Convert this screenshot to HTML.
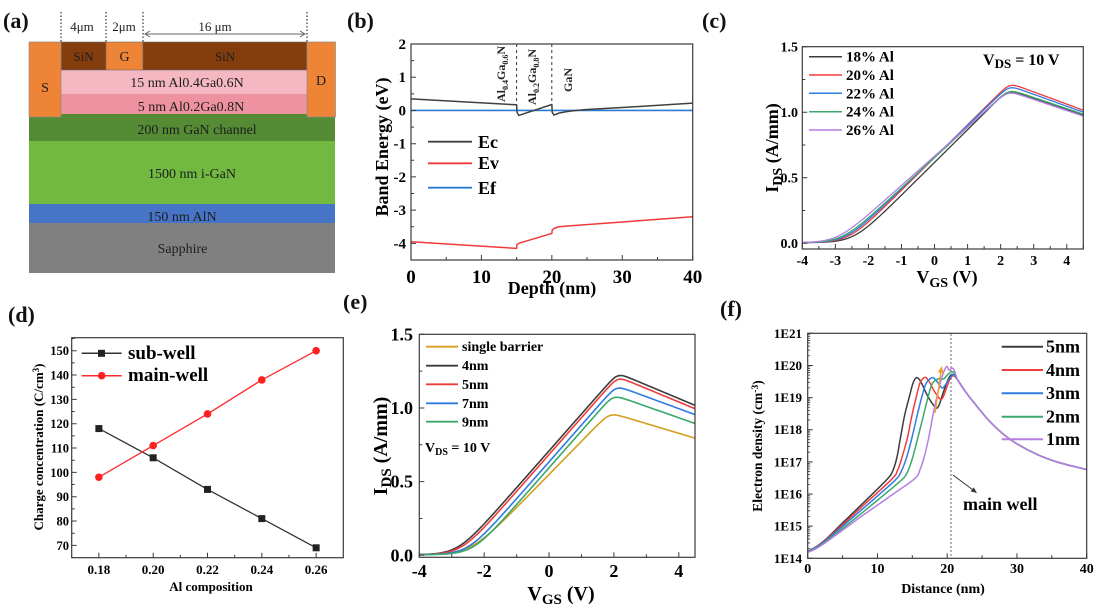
<!DOCTYPE html>
<html><head><meta charset="utf-8">
<style>
html,body{margin:0;padding:0;background:#fff;overflow:hidden}
svg{display:block}
text{font-family:"Liberation Serif","DejaVu Serif",serif}
.b{font-weight:bold}
</style></head><body>
<svg id="s" xmlns="http://www.w3.org/2000/svg" width="1098" height="614" viewBox="0 0 1098 614">
<rect width="1098" height="614" fill="#fff"/>

<!-- ===== Panel (a) ===== -->
<rect x="29" y="114" width="306" height="27.5" fill="#548b34"/>
<rect x="29" y="141" width="306" height="63" fill="#71b941"/>
<rect x="29" y="204" width="306" height="19" fill="#4674c6"/>
<rect x="29" y="223" width="306" height="50" fill="#808080"/>
<rect x="61" y="70" width="246" height="24" fill="#f5b8c3"/>
<rect x="61" y="94" width="246" height="20" fill="#ef929f"/>
<rect x="61" y="42" width="45" height="28" fill="#843d0d" stroke="#6a6a6a" stroke-width="0.6"/>
<rect x="106" y="42" width="37" height="28" fill="#ee8435" stroke="#6a6a6a" stroke-width="0.6"/>
<rect x="143" y="42" width="164" height="28" fill="#843d0d" stroke="#6a6a6a" stroke-width="0.6"/>
<rect x="29" y="42" width="32" height="75" fill="#ee8435" stroke="#8c8c8c" stroke-width="0.7"/>
<rect x="307" y="42" width="28.5" height="75" fill="#ee8435" stroke="#8c8c8c" stroke-width="0.7"/>
<g stroke="#333" stroke-width="1.2" stroke-dasharray="1.5,2">
<line x1="61" y1="12" x2="61" y2="42"/><line x1="106" y1="12" x2="106" y2="42"/>
<line x1="143" y1="12" x2="143" y2="42"/><line x1="307" y1="12" x2="307" y2="42"/>
</g>
<line x1="145" y1="34" x2="305" y2="34" stroke="#666" stroke-width="1"/>
<polyline points="150,31 145,34 150,37" fill="none" stroke="#666" stroke-width="1"/>
<polyline points="300,31 305,34 300,37" fill="none" stroke="#666" stroke-width="1"/>
<g font-size="14" fill="#1e1e1e" text-anchor="middle">
<text x="45" y="92">S</text>
<text x="321" y="85">D</text>
<text x="83.5" y="61" font-size="13">SiN</text>
<text x="124.5" y="61">G</text>
<text x="225" y="61" font-size="13">SiN</text>
<text x="187" y="87">15 nm Al0.4Ga0.6N</text>
<text x="191" y="111">5 nm Al0.2Ga0.8N</text>
<text x="197" y="134">200 nm GaN channel</text>
<text x="192" y="178">1500 nm i-GaN</text>
<text x="182" y="221">150 nm AlN</text>
<text x="182.5" y="253">Sapphire</text>
<text x="82" y="31" font-size="13">4μm</text>
<text x="124" y="31" font-size="13">2μm</text>
<text x="215" y="31" font-size="13">16 μm</text>
</g>

<!-- panel letters -->
<g class="b" font-size="22" fill="#111">
<text x="3" y="28">(a)</text>
<text x="347" y="28">(b)</text>
<text x="702" y="28">(c)</text>
<text x="8" y="322">(d)</text>
<text x="343" y="309">(e)</text>
<text x="720" y="316">(f)</text>
</g>
<rect x="338" y="282" width="40" height="13" fill="#fff"/>

<!-- ===== Panel (b) static text ===== -->
<text class="b" font-size="18" text-anchor="middle" transform="translate(388,147) rotate(-90)">Band Energy (eV)</text>
<text class="b" font-size="18" x="552" y="294" text-anchor="middle">Depth (nm)</text>
<g class="b" font-size="12" fill="#222">
<text transform="translate(505,102) rotate(-90)">Al<tspan dy="3" font-size="8">0.4</tspan><tspan dy="-3">Ga</tspan><tspan dy="3" font-size="8">0.6</tspan><tspan dy="-3">N</tspan></text>
<text transform="translate(536,105) rotate(-90)">Al<tspan dy="3" font-size="8">0.2</tspan><tspan dy="-3">Ga</tspan><tspan dy="3" font-size="8">0.8</tspan><tspan dy="-3">N</tspan></text>
<text transform="translate(572,92) rotate(-90)">GaN</text>
</g>
<g class="b" font-size="18">
<text x="478" y="148">Ec</text>
<text x="478" y="169">Ev</text>
<text x="478" y="194">Ef</text>
</g>

<!-- ===== Panel (c) static text ===== -->
<text class="b" font-size="18" text-anchor="middle" transform="translate(778,148) rotate(-90)">I<tspan dy="4" font-size="14">DS</tspan><tspan dy="-4"> (A/mm)</tspan></text>
<text class="b" font-size="18" x="947" y="283" text-anchor="middle">V<tspan dy="4" font-size="14">GS</tspan><tspan dy="-4"> (V)</tspan></text>
<text class="b" font-size="16" x="983" y="65">V<tspan dy="3" font-size="13">DS</tspan><tspan dy="-3"> = 10 V</tspan></text>
<g class="b" font-size="15">
<text x="846" y="61.7">18% Al</text>
<text x="846" y="80">20% Al</text>
<text x="846" y="98.3">22% Al</text>
<text x="846" y="116.7">24% Al</text>
<text x="846" y="135">26% Al</text>
</g>

<!-- ===== Panel (d) static text ===== -->
<text class="b" font-size="13" text-anchor="middle" transform="translate(43,447) rotate(-90)">Charge concentration (C/cm<tspan dy="-4" font-size="9">3</tspan><tspan dy="4">)</tspan></text>
<text class="b" font-size="13" x="211" y="591" text-anchor="middle">Al composition</text>
<g class="b" font-size="19">
<text x="128" y="359">sub-well</text>
<text x="128" y="381">main-well</text>
</g>

<!-- ===== Panel (e) static text ===== -->
<text class="b" font-size="20" text-anchor="middle" transform="translate(387,446) rotate(-90)">I<tspan dy="4" font-size="15">DS</tspan><tspan dy="-4"> (A/mm)</tspan></text>
<text class="b" font-size="20" x="561" y="600" text-anchor="middle">V<tspan dy="4" font-size="15">GS</tspan><tspan dy="-4"> (V)</tspan></text>
<text class="b" font-size="14" x="425" y="452">V<tspan dy="3" font-size="10">DS</tspan><tspan dy="-3"> = 10 V</tspan></text>
<g class="b" font-size="14">
<text x="462" y="351">single barrier</text>
<text x="462" y="370">4nm</text>
<text x="462" y="389">5nm</text>
<text x="462" y="408">7nm</text>
<text x="462" y="426.5">9nm</text>
</g>

<!-- ===== Panel (f) static text ===== -->
<text class="b" font-size="13.5" text-anchor="middle" transform="translate(762,446) rotate(-90)">Electron density (cm<tspan dy="-4" font-size="9.5">-3</tspan><tspan dy="4">)</tspan></text>
<text class="b" font-size="14" x="943" y="593" text-anchor="middle">Distance (nm)</text>
<g class="b" font-size="18">
<text x="1046" y="352.5">5nm</text>
<text x="1046" y="375.8">4nm</text>
<text x="1046" y="399">3nm</text>
<text x="1046" y="422.4">2nm</text>
<text x="1046" y="445">1nm</text>
<text x="963" y="510">main well</text>
</g>
<line x1="951" y1="334" x2="951" y2="558" stroke="#777" stroke-width="1.1" stroke-dasharray="2,2"/>
<line x1="953" y1="475" x2="973" y2="490" stroke="#333" stroke-width="1"/>
<polygon points="977,493 970.7,491.4 973.7,487.4" fill="#333"/>
</svg>
<script>
const S=document.getElementById('s');
const NS='http://www.w3.org/2000/svg';
function E(t,a,p){const e=document.createElementNS(NS,t);for(const k in a)e.setAttribute(k,a[k]);(p||S).appendChild(e);return e;}
function T(x,y,str,a){const e=E('text',Object.assign({x:x,y:y},a||{}));e.textContent=str;return e;}
function Ax(x0,y0,x1,y1,xa,xb,ya,yb){return{x0:x0,y0:y0,x1:x1,y1:y1,X:v=>x0+(v-xa)/(xb-xa)*(x1-x0),Y:v=>y1-(v-ya)/(yb-ya)*(y1-y0)};}
function box(A){E('rect',{x:A.x0,y:A.y0,width:A.x1-A.x0,height:A.y1-A.y0,fill:'none',stroke:'#3a3a3a','stroke-width':1.2});}
function ticks(A,xs,xm,ys,ym){let d='';const L=5,l=3;
 xs.forEach(v=>{d+='M'+A.X(v)+','+A.y1+'v'+(-L);});
 xm.forEach(v=>{d+='M'+A.X(v)+','+A.y1+'v'+(-l);});
 ys.forEach(v=>{d+='M'+A.x0+','+A.Y(v)+'h'+L;});
 ym.forEach(v=>{d+='M'+A.x0+','+A.Y(v)+'h'+l;});
 E('path',{d:d,stroke:'#3a3a3a','stroke-width':1,fill:'none'});}
function poly(A,pts,color,w){let d='';pts.forEach((p,i)=>{d+=(i?'L':'M')+A.X(p[0]).toFixed(2)+','+A.Y(p[1]).toFixed(2);});E('path',{d:d,stroke:color,'stroke-width':w||1.4,fill:'none','stroke-linejoin':'round'});}
function fn(A,f,a,b,n,color,w){const pts=[];for(let i=0;i<=n;i++){const v=a+(b-a)*i/n;pts.push([v,f(v)]);}poly(A,pts,color,w);}
function spline(A,pts,color,w){const P=pts.map(p=>[A.X(p[0]),A.Y(p[1])]);let d='M'+P[0][0].toFixed(2)+','+P[0][1].toFixed(2);
 for(let i=0;i<P.length-1;i++){const p0=P[Math.max(i-1,0)],p1=P[i],p2=P[i+1],p3=P[Math.min(i+2,P.length-1)];
  const c1=[p1[0]+(p2[0]-p0[0])/6,p1[1]+(p2[1]-p0[1])/6];const c2=[p2[0]-(p3[0]-p1[0])/6,p2[1]-(p3[1]-p1[1])/6];
  d+='C'+c1[0].toFixed(2)+','+c1[1].toFixed(2)+' '+c2[0].toFixed(2)+','+c2[1].toFixed(2)+' '+p2[0].toFixed(2)+','+p2[1].toFixed(2);}
 E('path',{d:d,stroke:color,'stroke-width':w||1.4,fill:'none','stroke-linejoin':'round'});}
function range(a,b,s){const r=[];for(let v=a;v<=b+1e-9;v+=s)r.push(Math.round(v*1000)/1000);return r;}
function sp(x){return x>30?x:Math.log(1+Math.exp(x));}
function smin(a,b,k){const m=Math.min(a,b);return m-k*Math.log(Math.exp(-(a-m)/k)+Math.exp(-(b-m)/k));}
function iv(p){const k=p[0],V0=p[1],s=p[2],Ip=p[3],Vp=p[4],end=p[5];const d=(Ip-end)/(4.5-Vp);
 return V=>{const a=0.004+k*s*sp((V-V0)/s);const b=Ip+0.015-d*(V-Vp);return smin(a,b,0.03);};}
const lab={class:'b','text-anchor':'middle'};

/* ---------- (b) ---------- */
const B=Ax(411,44,692.7,260,0,40,-4.5,2);
[[516.6],[551.8]].forEach(x=>E('line',{x1:x[0],y1:44,x2:x[0],y2:103,stroke:'#333','stroke-width':1,'stroke-dasharray':'3,3'}));
poly(B,[[0,0],[40,0]],'#2b7bd6',1.7);
poly(B,[[0,0.35],[15,0.17],[15.05,-0.05],[15.3,-0.15],[20,0.18],[20.05,-0.05],[20.3,-0.14],[21,-0.08],[22,-0.04],[23,-0.01],[25,0.03],[30,0.09],[40,0.22]],'#404040',1.5);
poly(B,[[0,-3.95],[15,-4.15],[15.05,-4.03],[15.4,-3.99],[20,-3.7],[20.05,-3.6],[20.4,-3.54],[21,-3.5],[22,-3.48],[40,-3.2]],'#f03a3a',1.5);
box(B);
ticks(B,[0,10,20,30,40],[5,15,25,35],range(-4,2,1),range(-3.5,1.5,1));
range(-4,2,1).forEach(v=>T(406,B.Y(v)+5,String(v),{class:'b','font-size':15,'text-anchor':'end'}));
[0,10,20,30,40].forEach(v=>T(B.X(v),283,String(v),Object.assign({'font-size':19},lab)));
E('line',{x1:428,y1:141.7,x2:472,y2:141.7,stroke:'#404040','stroke-width':1.8});
E('line',{x1:428,y1:163.3,x2:472,y2:163.3,stroke:'#f03a3a','stroke-width':1.8});
E('line',{x1:428,y1:187.7,x2:472,y2:187.7,stroke:'#2b7bd6','stroke-width':1.8});

/* ---------- (c) ---------- */
const C=Ax(802.3,46.7,1083.3,249,-4,4.5,-0.0443,1.5);
const cs=[['#3c3c3c',[.25,-2.45,.3,1.16,2.2,.965]],['#f03c3c',[.25,-2.6,.3,1.21,2.25,1.0]],['#2f7be0',[.242,-2.7,.3,1.19,2.25,.985]],['#3aa86a',[.232,-2.8,.3,1.165,2.2,.97]],['#b57fe3',[.224,-2.95,.3,1.15,2.2,.955]]];
cs.forEach(c=>fn(C,iv(c[1]),-4,4.5,260,c[0],1.3));
box(C);
ticks(C,range(-4,4,1),range(-3.5,4.5,1),[0,.5,1,1.5],[.25,.75,1.25]);
['0.0','0.5','1.0','1.5'].forEach((s,i)=>T(798,C.Y(i*.5)+5,s,{class:'b','font-size':14,'text-anchor':'end'}));
range(-4,4,1).forEach(v=>T(C.X(v),265,String(v),Object.assign({'font-size':14},lab)));
[56.7,75,93.3,111.7,130].forEach((y,i)=>E('line',{x1:809,y1:y,x2:842,y2:y,stroke:cs[i][0],'stroke-width':1.5}));

/* ---------- (d) ---------- */
const D=Ax(71.7,337.7,343.3,557.7,0.17,0.27,64.93,155.35);
const xs=[.18,.2,.22,.24,.26];
const sub=[118,106,93,81,69],mainw=[98,111,124,138,150];
poly(D,xs.map((x,i)=>[x,sub[i]]),'#333',1.3);
poly(D,xs.map((x,i)=>[x,mainw[i]]),'#ff2a2a',1.3);
xs.forEach((x,i)=>{E('rect',{x:D.X(x)-3.5,y:D.Y(sub[i])-3.5,width:7,height:7,fill:'#222'});E('circle',{cx:D.X(x),cy:D.Y(mainw[i]),r:3.8,fill:'#ff2020'});});
box(D);
ticks(D,xs,[.19,.21,.23,.25],range(70,150,10),range(65,155,10));
range(70,150,10).forEach(v=>T(69,D.Y(v)+4.5,String(v),{class:'b','font-size':12.5,'text-anchor':'end'}));
['0.18','0.20','0.22','0.24','0.26'].forEach((s,i)=>T(D.X(xs[i]),574,s,Object.assign({'font-size':13},lab)));
E('line',{x1:81.7,y1:353.3,x2:121.7,y2:353.3,stroke:'#333','stroke-width':1.5});
E('rect',{x:98,y:349.8,width:7,height:7,fill:'#222'});
E('line',{x1:81.7,y1:375.7,x2:121.7,y2:375.7,stroke:'#ff2a2a','stroke-width':1.5});
E('circle',{cx:101.7,cy:375.7,r:3.8,fill:'#ff2020'});

/* ---------- (e) ---------- */
const Ee=Ax(419.3,334.3,695,557.3,-4,4.5,-0.0136,1.5);
const es=[['#d4a020',[.225,-2.42,.35,.945,2.0,.78]],['#3c3c3c',[.25,-2.82,.3,1.215,2.2,1.003]],['#f03c3c',[.25,-2.72,.3,1.19,2.2,.98]],['#2f7be0',[.25,-2.52,.3,1.13,2.15,.94]],['#3aa86a',[.25,-2.36,.3,1.065,2.1,.88]]];
es.forEach(c=>fn(Ee,iv(c[1]),-4,4.5,260,c[0],1.6));
box(Ee);
ticks(Ee,[-4,-2,0,2,4],[-3,-1,1,3],[0,.5,1,1.5],[.25,.75,1.25]);
['0.0','0.5','1.0','1.5'].forEach((s,i)=>T(413,Ee.Y(i*.5)+6,s,{class:'b','font-size':18,'text-anchor':'end'}));
[-4,-2,0,2,4].forEach(v=>T(Ee.X(v),577,String(v),Object.assign({'font-size':18},lab)));
[346.7,365.7,384.3,403.3,421.7].forEach((y,i)=>E('line',{x1:426,y1:y,x2:458,y2:y,stroke:es[i][0],'stroke-width':1.8}));

/* ---------- (f) ---------- */
const F=Ax(807.7,333.3,1086.7,558.3,0,40,14,21);
const tail=[[21.5,19.55],[22.5,19.22],[24,18.8],[26,18.28],[28,17.87],[30,17.56],[33,17.22],[36,16.98],[40,16.76]];
const fc=[
['#3c3c3c',[[0,14.22],[1.2,14.36],[2.5,14.57],[5,15.1],[8,15.73],[11.3,16.44],[12.2,16.72],[12.8,17.15],[13.3,17.75],[13.9,18.45],[14.6,19.05],[15.1,19.45],[15.6,19.62],[16.2,19.5],[17.2,19.05],[18.3,18.7],[18.8,18.75],[19.5,19.2],[20.2,19.6],[20.8,19.72]]],
['#f03c3c',[[0,14.22],[1.2,14.35],[2.5,14.55],[5,15.05],[8,15.65],[12,16.45],[12.9,16.74],[13.6,17.2],[14.3,17.75],[14.9,18.4],[15.6,19.05],[16.1,19.45],[16.8,19.63],[17.4,19.5],[18.3,19.15],[19.2,18.95],[19.9,19.3],[20.4,19.58],[20.9,19.68]]],
['#2f7be0',[[0,14.22],[1.2,14.34],[2.5,14.53],[5,15.0],[8,15.56],[12.4,16.4],[13.4,16.7],[14.2,17.15],[15.0,17.8],[15.7,18.45],[16.4,19.05],[17.0,19.45],[17.9,19.62],[18.6,19.48],[19.3,19.3],[19.9,19.45],[20.5,19.65],[20.9,19.7]]],
['#3aa86a',[[0,14.2],[1.2,14.32],[2.5,14.5],[5,14.93],[8,15.45],[13.0,16.35],[14.2,16.64],[15.0,17.1],[15.9,17.85],[16.6,18.45],[17.3,19.05],[17.9,19.45],[18.9,19.6],[19.5,19.58],[20.1,19.72],[20.8,19.8]]],
['#b57fe3',[[0,14.18],[1.2,14.3],[2.5,14.48],[4.4,14.78],[8,15.35],[12,15.96],[15.4,16.49],[16.1,16.76],[16.7,17.15],[17.3,17.7],[18.0,18.5],[18.6,19.1],[19.2,19.6],[19.6,19.85],[19.95,19.97],[20.3,19.85],[20.7,19.92],[21.1,19.8]]]];
fc.forEach(c=>spline(F,c[1].concat(tail),c[0],1.5));
box(F);
const lm=[];for(let d=14;d<21;d++)for(let m=2;m<10;m++)lm.push(d+Math.log10(m));
ticks(F,[0,10,20,30,40],[5,15,25,35],range(14,21,1),[]);
let dm='';lm.forEach(v=>{dm+='M'+F.x0+','+F.Y(v).toFixed(2)+'h2.5';});E('path',{d:dm,stroke:'#3a3a3a','stroke-width':0.8,fill:'none'});
range(14,21,1).forEach(v=>T(802,F.Y(v)+4.5,'1E'+v,{class:'b','font-size':13,'text-anchor':'end'}));
[0,10,20,30,40].forEach(v=>T(F.X(v),573,String(v),Object.assign({'font-size':14},lab)));
[346.7,370,393.3,416.7,439.3].forEach((y,i)=>E('line',{x1:1001.7,y1:y,x2:1043,y2:y,stroke:fc[i][0],'stroke-width':2}));
E('line',{x1:935,y1:413,x2:941,y2:372,stroke:'#f5a030','stroke-width':1.5});
E('polygon',{points:'941.7,366 943.7,373.3 937.7,372.5',fill:'#f5a030'});
</script>
</body></html>
